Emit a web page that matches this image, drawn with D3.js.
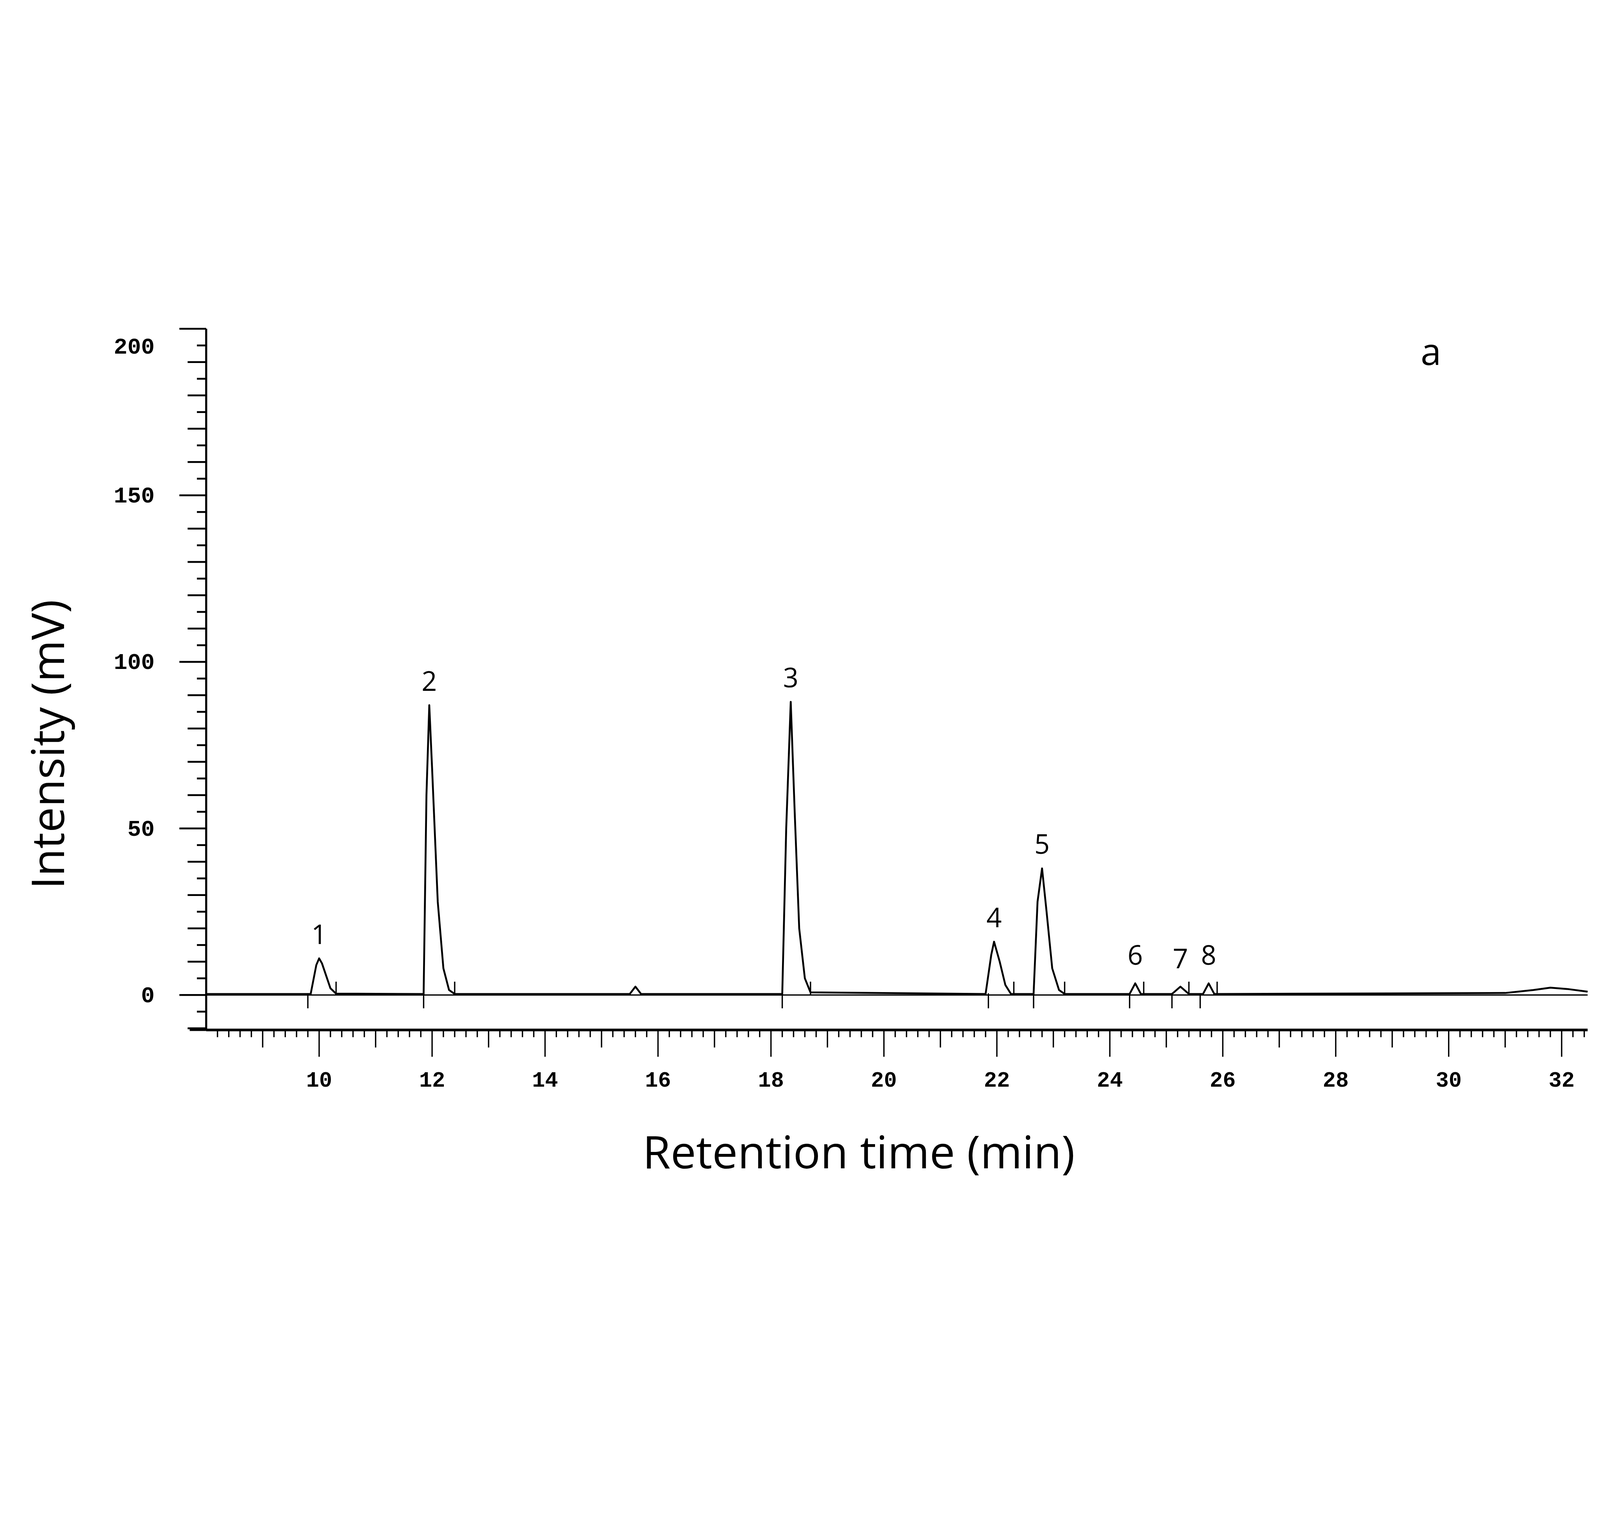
<!DOCTYPE html>
<html><head><meta charset="utf-8">
<script src="https://cdn.jsdelivr.net/npm/d3@7"></script>
<style>html,body{margin:0;padding:0;background:#fff;overflow:hidden}#chart{display:block;width:100vw;height:100vh}</style></head>
<body><svg id="chart" viewBox="0 0 1552 889" preserveAspectRatio="xMidYMid meet"></svg>
<script>
// trace points (min, mV)
var traceTime = [8.0, 9.85, 9.95, 10.0, 10.05, 10.2, 10.3, 11.85, 11.9, 11.95, 12.0, 12.1, 12.2, 12.3, 12.4,
  15.5, 15.6, 15.7, 18.2, 18.27, 18.35, 18.42, 18.5, 18.6, 18.7, 21.8, 21.9, 21.95, 22.05, 22.15, 22.25,
  22.65, 22.72, 22.8, 22.88, 22.98, 23.1, 23.2, 24.35, 24.45, 24.55, 25.1, 25.25, 25.4, 25.65, 25.75, 25.85,
  31.0, 31.5, 31.8, 32.1, 32.46];
var traceValue = [0.3, 0.3, 9, 11, 9.5, 2, 0.4, 0.3, 60, 87, 68, 28, 8, 1.5, 0.3,
  0.3, 2.5, 0.3, 0.3, 50, 88, 55, 20, 5, 0.8, 0.3, 12, 16, 10, 3, 0.3,
  0.3, 28, 38, 25, 8, 1.5, 0.3, 0.3, 3.5, 0.3, 0.3, 2.5, 0.3, 0.3, 3.5, 0.3,
  0.6, 1.5, 2.2, 1.8, 1.0];
var peakLabels = ["1", "2", "3", "4", "5", "6", "7", "8"];
var peakTimes = [10.0, 11.95, 18.35, 21.95, 22.8, 24.45, 25.25, 25.75];
var peakTops = [11, 87, 88, 16, 38, 3.5, 2.5, 3.5];
var markTimes = [9.8, 10.3, 11.85, 12.4, 18.2, 18.7, 21.85, 22.3, 22.65, 23.2, 24.35, 24.6, 25.1, 25.4, 25.6, 25.9];
var xTicks = [10, 12, 14, 16, 18, 20, 22, 24, 26, 28, 30, 32];
var yTicks = [0, 50, 100, 150, 200];

var svg = d3.select("#chart");
var x = d3.scaleLinear().domain([8, 32.46]).range([200, 1540]);
var y = d3.scaleLinear().domain([0, 200]).range([668, 22]);
var yBottom = y(-10.5);

// left axis
svg.append("line").attr("x1", 200).attr("x2", 200).attr("y1", y(200)).attr("y2", yBottom)
  .attr("stroke", "#000").attr("stroke-width", 2);
d3.range(-10, 201, 5).forEach(function(v) {
  var len = v % 50 === 0 ? 26 : (v % 10 === 0 ? 18 : 9);
  svg.append("line").attr("x1", 200 - len).attr("x2", 200).attr("y1", y(v)).attr("y2", y(v))
    .attr("stroke", "#000").attr("stroke-width", 1.8);
});
svg.append("line").attr("x1", 184).attr("x2", 200).attr("y1", yBottom).attr("y2", yBottom)
  .attr("stroke", "#000").attr("stroke-width", 2);
svg.selectAll(".ylab").data(yTicks).enter().append("text")
  .attr("x", 150).attr("y", function(d) { return y(d) + (d === 200 ? 24 : 7); })
  .attr("text-anchor", "end")
  .style("font", "bold 22px 'Liberation Mono', monospace")
  .text(function(d) { return d; });

// bottom axis
svg.append("line").attr("x1", 200).attr("x2", 1540).attr("y1", yBottom).attr("y2", yBottom)
  .attr("stroke", "#000").attr("stroke-width", 2.5);
d3.range(41, 163).forEach(function(i) {
  var t = i / 5;
  if (x(t) > 1540) return;
  var len = i % 10 === 0 ? 26 : (i % 5 === 0 ? 17 : 7);
  svg.append("line").attr("x1", x(t)).attr("x2", x(t)).attr("y1", yBottom).attr("y2", yBottom + len)
    .attr("stroke", "#000").attr("stroke-width", 1.3);
});
svg.selectAll(".xlab").data(xTicks).enter().append("text")
  .attr("x", function(d) { return x(d); }).attr("y", 757)
  .attr("text-anchor", "middle")
  .style("font", "bold 21px 'Liberation Mono', monospace")
  .text(function(d) { return d; });

// baseline of detector
svg.append("line").attr("x1", 200).attr("x2", 1540).attr("y1", y(0)).attr("y2", y(0))
  .attr("stroke", "#000").attr("stroke-width", 1.2);

// integration marks
svg.selectAll(".mark").data(markTimes).enter().append("line")
  .attr("x1", function(d) { return x(d); }).attr("x2", function(d) { return x(d); })
  .attr("y1", function(d, i) { return i % 2 === 0 ? y(-4) : y(0); })
  .attr("y2", function(d, i) { return i % 2 === 0 ? y(0.5) : y(4); })
  .attr("stroke", "#000").attr("stroke-width", 1.3);

// trace
var line = d3.line().x(function(d) { return x(d[0]); }).y(function(d) { return y(d[1]); });
svg.append("path").datum(d3.zip(traceTime, traceValue)).attr("d", line)
  .attr("fill", "none").attr("stroke", "#000").attr("stroke-width", 1.8).attr("stroke-linejoin", "round");

// peak numbers
svg.selectAll(".plab").data(peakLabels).enter().append("text")
  .attr("x", function(d, i) { return x(peakTimes[i]); })
  .attr("y", function(d, i) { return y(peakTops[i]) - (i >= 5 ? 18 : 14); })
  .attr("text-anchor", "middle")
  .style("font", "26px 'Open Sans', 'DejaVu Sans', sans-serif")
  .text(function(d) { return d; });

svg.append("text").attr("x", 1388).attr("y", 57).attr("text-anchor", "middle")
  .style("font", "36px 'Open Sans', sans-serif").text("a");
svg.append("text").attr("transform", "translate(62,425) rotate(-90)").attr("text-anchor", "middle")
  .style("font", "44px 'Open Sans', sans-serif").text("Intensity (mV)");
svg.append("text").attr("x", 833).attr("y", 836).attr("text-anchor", "middle")
  .style("font", "44px 'Open Sans', sans-serif").text("Retention time (min)");
</script></body></html>
